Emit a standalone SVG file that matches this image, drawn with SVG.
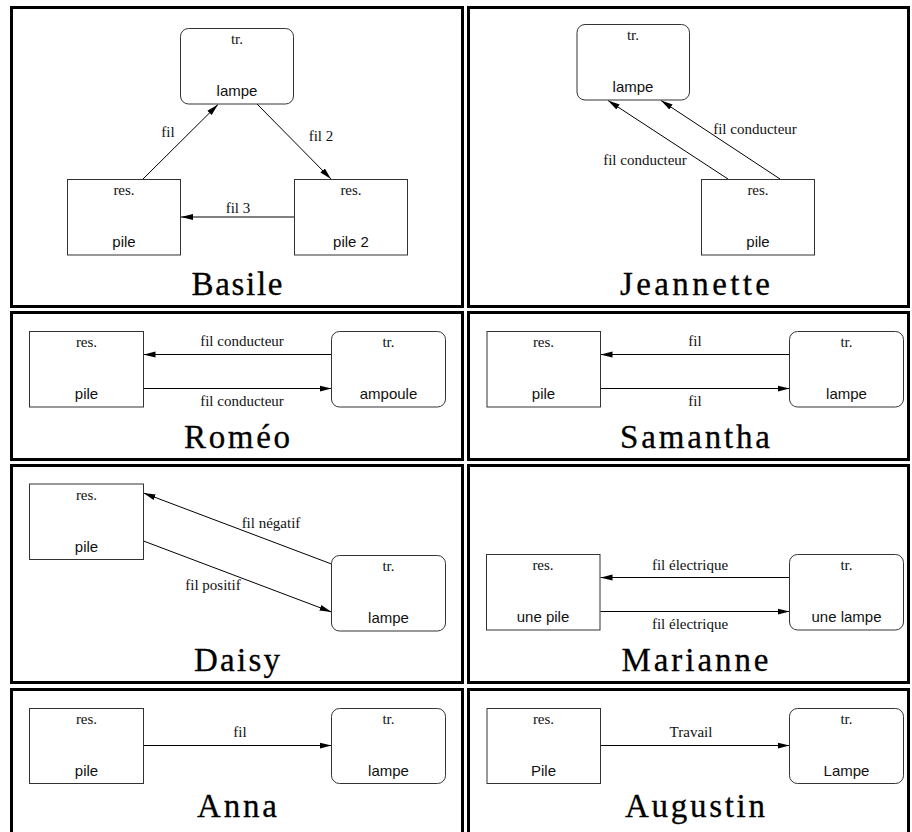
<svg xmlns="http://www.w3.org/2000/svg" width="912" height="832" viewBox="0 0 912 832">
<style>
.panel{fill:none;stroke:#000;stroke-width:3}
.box{fill:#fff;stroke:#333;stroke-width:1}
.w{fill:none;stroke:#000;stroke-width:1;marker-end:url(#ah)}
.s{font-family:"Liberation Serif","Times New Roman",serif;font-size:15px;fill:#111;text-anchor:middle}
.n{font-family:"Liberation Sans",Arial,sans-serif;font-size:15px;fill:#111;text-anchor:middle}
.t{font-family:"Liberation Serif","Times New Roman",serif;font-size:33px;fill:#000;stroke:#000;stroke-width:0.3;text-anchor:middle}
</style>
<defs>
<marker id="ah" markerWidth="12" markerHeight="7" refX="12" refY="3.5" orient="auto" markerUnits="userSpaceOnUse"><path d="M0,0.5 L12,3.5 L0,6.5 Z" fill="#000"/></marker>
</defs>
<rect width="912" height="832" fill="#fff"/>
<g id="panels">
<rect class="panel" x="11.5" y="7.5" width="451" height="299"/>
<rect class="panel" x="468.5" y="7.5" width="440" height="299"/>
<rect class="panel" x="11.5" y="312.5" width="451" height="147"/>
<rect class="panel" x="468.5" y="312.5" width="440" height="147"/>
<rect class="panel" x="11.5" y="465.5" width="451" height="217"/>
<rect class="panel" x="468.5" y="465.5" width="440" height="217"/>
<rect class="panel" x="11.5" y="689.5" width="451" height="160"/>
<rect class="panel" x="468.5" y="689.5" width="440" height="160"/>
</g>
<g id="titles">
<text class="t" x="237" y="295" textLength="91" lengthAdjust="spacing">Basile</text>
<text class="t" x="695" y="295" textLength="150" lengthAdjust="spacing">Jeannette</text>
<text class="t" x="237" y="448" textLength="106" lengthAdjust="spacing">Roméo</text>
<text class="t" x="695" y="448" textLength="150" lengthAdjust="spacing">Samantha</text>
<text class="t" x="237" y="671" textLength="86" lengthAdjust="spacing">Daisy</text>
<text class="t" x="695" y="671" textLength="147" lengthAdjust="spacing">Marianne</text>
<text class="t" x="237" y="817" textLength="80" lengthAdjust="spacing">Anna</text>
<text class="t" x="695" y="817" textLength="140" lengthAdjust="spacing">Augustin</text>
</g>
<g id="connectors">
<line class="w" x1="143" y1="179" x2="218" y2="104.5"/>
<line class="w" x1="257" y1="104" x2="331" y2="179"/>
<line class="w" x1="294" y1="217" x2="181" y2="217"/>
<line class="w" x1="728" y1="179" x2="608" y2="100.5"/>
<line class="w" x1="780" y1="179" x2="661" y2="100.5"/>
<line class="w" x1="331.5" y1="354.5" x2="143.5" y2="354.5"/>
<line class="w" x1="143.5" y1="388.5" x2="331.5" y2="388.5"/>
<line class="w" x1="789.5" y1="354.5" x2="600.5" y2="354.5"/>
<line class="w" x1="600.5" y1="388.5" x2="789.5" y2="388.5"/>
<line class="w" x1="331.5" y1="564" x2="143.5" y2="493"/>
<line class="w" x1="143.5" y1="541" x2="331.5" y2="612"/>
<line class="w" x1="789.5" y1="577.5" x2="600.5" y2="577.5"/>
<line class="w" x1="600.5" y1="611.5" x2="789.5" y2="611.5"/>
<line class="w" x1="143.5" y1="745.5" x2="331.5" y2="745.5"/>
<line class="w" x1="600.5" y1="745.5" x2="789.5" y2="745.5"/>
</g>
<g id="connector-labels">
<text class="s" x="168" y="137">fil</text>
<text class="s" x="321" y="141">fil 2</text>
<text class="s" x="238" y="213">fil 3</text>
<text class="s" x="645" y="165">fil conducteur</text>
<text class="s" x="755" y="134">fil conducteur</text>
<text class="s" x="242" y="346">fil conducteur</text>
<text class="s" x="242" y="406">fil conducteur</text>
<text class="s" x="695" y="346">fil</text>
<text class="s" x="695" y="406">fil</text>
<text class="s" x="271" y="528">fil négatif</text>
<text class="s" x="213" y="590">fil positif</text>
<text class="s" x="690" y="570">fil électrique</text>
<text class="s" x="690" y="629">fil électrique</text>
<text class="s" x="240" y="737">fil</text>
<text class="s" x="691" y="737">Travail</text>
</g>
<g id="basile-lampe"><rect class="box" x="180.5" y="28.5" width="113" height="75.5" rx="8"/><text class="s" x="237" y="44">tr.</text><text class="n" x="237" y="96">lampe</text></g>
<g id="basile-pile"><rect class="box" x="67.5" y="179.5" width="113" height="75.5"/><text class="s" x="124" y="195">res.</text><text class="n" x="124" y="247">pile</text></g>
<g id="basile-pile2"><rect class="box" x="294.5" y="179.5" width="113" height="75.5"/><text class="s" x="351" y="195">res.</text><text class="n" x="351" y="247">pile 2</text></g>
<g id="jeannette-lampe"><rect class="box" x="577" y="24.5" width="112.5" height="75.5" rx="8"/><text class="s" x="633" y="40">tr.</text><text class="n" x="633" y="92">lampe</text></g>
<g id="jeannette-pile"><rect class="box" x="701.5" y="179.5" width="113" height="75.5"/><text class="s" x="758" y="195">res.</text><text class="n" x="758" y="247">pile</text></g>
<g id="romeo-pile"><rect class="box" x="29.5" y="331.5" width="114" height="75.5"/><text class="s" x="86.5" y="347">res.</text><text class="n" x="86.5" y="399">pile</text></g>
<g id="romeo-ampoule"><rect class="box" x="331.5" y="331.5" width="114" height="75.5" rx="8"/><text class="s" x="388.5" y="347">tr.</text><text class="n" x="388.5" y="399">ampoule</text></g>
<g id="samantha-pile"><rect class="box" x="487" y="331.5" width="113.5" height="75.5"/><text class="s" x="543.5" y="347">res.</text><text class="n" x="543.5" y="399">pile</text></g>
<g id="samantha-lampe"><rect class="box" x="789.5" y="331.5" width="114" height="75.5" rx="8"/><text class="s" x="846.5" y="347">tr.</text><text class="n" x="846.5" y="399">lampe</text></g>
<g id="daisy-pile"><rect class="box" x="29.5" y="484" width="114" height="75.5"/><text class="s" x="86.5" y="499.5">res.</text><text class="n" x="86.5" y="551.5">pile</text></g>
<g id="daisy-lampe"><rect class="box" x="331.5" y="555.5" width="114" height="75.5" rx="8"/><text class="s" x="388.5" y="571">tr.</text><text class="n" x="388.5" y="623">lampe</text></g>
<g id="marianne-pile"><rect class="box" x="486.5" y="554.5" width="113.5" height="75.5"/><text class="s" x="543" y="570">res.</text><text class="n" x="543" y="622">une pile</text></g>
<g id="marianne-lampe"><rect class="box" x="789.5" y="554.5" width="114" height="75.5" rx="8"/><text class="s" x="846.5" y="570">tr.</text><text class="n" x="846.5" y="622">une lampe</text></g>
<g id="anna-pile"><rect class="box" x="29.5" y="708.5" width="114" height="75"/><text class="s" x="86.5" y="724">res.</text><text class="n" x="86.5" y="776">pile</text></g>
<g id="anna-lampe"><rect class="box" x="331.5" y="708.5" width="114" height="75" rx="8"/><text class="s" x="388.5" y="724">tr.</text><text class="n" x="388.5" y="776">lampe</text></g>
<g id="augustin-pile"><rect class="box" x="487" y="708.5" width="113.5" height="75"/><text class="s" x="543.5" y="724">res.</text><text class="n" x="543.5" y="776">Pile</text></g>
<g id="augustin-lampe"><rect class="box" x="789.5" y="708.5" width="114" height="75" rx="8"/><text class="s" x="846.5" y="724">tr.</text><text class="n" x="846.5" y="776">Lampe</text></g>
</svg>
